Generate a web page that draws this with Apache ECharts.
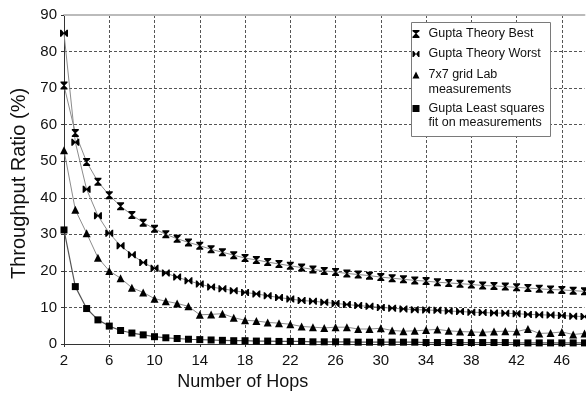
<!DOCTYPE html>
<html>
<head>
<meta charset="utf-8">
<script src="https://cdn.jsdelivr.net/npm/echarts@6/dist/echarts.min.js"></script>
<style>
html,body{margin:0;padding:0;background:#fff;}
#chart{width:586px;height:394px;}
</style>
</head>
<body>
<div id="chart"></div>
<script>
// ---- data ----
const hops = [2,3,4,5,6,7,8,9,10,11,12,13,14,15,16,17,18,19,20,21,22,23,24,25,26,27,28,29,30,31,32,33,34,35,36,37,38,39,40,41,42,43,44,45,46,47,48];
const theoryBest = [70.7,57.7,49.8,44.4,40.7,37.7,35.3,33.2,31.5,30.0,28.8,27.8,26.9,25.9,25.1,24.3,23.5,23.0,22.4,21.9,21.4,20.9,20.4,20.0,19.7,19.3,19.0,18.7,18.3,18.0,17.7,17.4,17.2,16.9,16.7,16.5,16.3,16.0,15.9,15.7,15.5,15.3,15.1,14.9,14.8,14.6,14.4];
const theoryWorst = [85.0,55.2,42.3,35.1,30.3,26.9,24.4,22.3,20.7,19.4,18.3,17.3,16.4,15.6,15.1,14.6,14.1,13.7,13.2,12.7,12.3,11.9,11.7,11.4,11.1,10.8,10.5,10.3,10.0,9.8,9.6,9.4,9.3,9.2,9.0,8.9,8.7,8.6,8.5,8.4,8.3,8.1,8.0,7.9,7.8,7.6,7.5];
const labMeasured = [53.0,36.7,30.3,23.6,20.0,18.0,15.4,14.1,12.4,11.7,11.1,10.3,8.0,8.1,8.3,7.2,6.5,6.3,5.9,5.7,5.4,4.8,4.6,4.4,4.6,4.6,4.1,4.1,4.3,3.7,3.5,3.6,3.8,4.0,3.6,3.4,3.3,3.2,3.4,3.5,3.4,4.1,2.9,3.0,3.3,2.6,2.9];
const leastSquares = [31.2,15.7,9.7,6.6,4.9,3.7,3.0,2.5,2.0,1.7,1.5,1.3,1.2,1.1,1.0,0.9,0.9,0.8,0.8,0.7,0.7,0.7,0.6,0.6,0.6,0.6,0.5,0.5,0.5,0.5,0.5,0.5,0.4,0.4,0.4,0.4,0.4,0.4,0.4,0.4,0.3,0.3,0.3,0.3,0.3,0.3,0.3];
const seriesNames = ['Gupta Theory Best','Gupta Theory Worst','7x7 grid Lab measurements','Gupta Least squares fit on measurements'];
const legendLabels = ['Gupta Theory Best','Gupta Theory Worst','7x7 grid Lab\nmeasurements','Gupta Least squares\nfit on measurements'];
const xTicks = {min:2, max:48, interval:4};
const yTicks = {min:0, max:90, interval:10};
const xTitle = 'Number of Hops';
const yTitle = 'Throughput Ratio (%)';

// ---- styles ----
const FONT = '"Liberation Sans", Arial, sans-serif';
const HOURGLASS = 'path://M0,0 L10,0 L10,1.6 L5.8,5 L10,8.4 L10,10 L0,10 L0,8.4 L4.2,5 L0,1.6 Z';
const BOWTIE = 'path://M0,0 L1.6,0 L5,4.2 L8.4,0 L10,0 L10,10 L8.4,10 L5,5.8 L1.6,10 L0,10 Z';
const legendIcons = [
  'path://M0,0 L7,0 L7,1.2 L4,3.6 L7,6.8 L7,8 L0,8 L0,6.8 L3,3.6 L0,1.2 Z M11,0 M11,8',
  'path://M0,0.5 L1.2,0.5 L3.5,3.4 L5.8,0.5 L7,0.5 L7,6.5 L5.8,6.5 L3.5,3.6 L1.2,6.5 L0,6.5 Z M11,0 M11,7',
  'path://M3.5,0.5 L7,7.5 L0,7.5 Z M11,0 M11,22',
  'path://M0,0.5 L7,0.5 L7,7.5 L0,7.5 Z M11,0 M11,22'
];
const legendHeights = [8, 7, 22, 22];
const legendTops = [26.75, 46.75, 67.5, 101];

const toPairs = arr => hops.map((h, i) => [h, arr[i]]);
const lineColor = '#8c8c8c';

const chart = echarts.init(document.getElementById('chart'), null, {renderer:'canvas'});
const legends = seriesNames.map((n, i) => ({
  data: [{name: n, icon: legendIcons[i]}],
  left: 412.5, top: legendTops[i], z: 10,
  orient: 'vertical', padding: 0,
  itemWidth: 11, itemHeight: legendHeights[i],
  selectedMode: false,
  formatter: () => legendLabels[i],
  textStyle: {fontFamily: FONT, fontSize: 12.5, lineHeight: 14.5, color: '#111'},
  itemStyle: {color: '#000', borderWidth: 0}
}));

const option = {
  animation: false,
  backgroundColor: '#fff',
  textStyle: {fontFamily: FONT},
  grid: {left: 64, right: 1.5, top: 15, bottom: 50, containLabel: false, outerBoundsMode: 'none'},
  graphic: [{
    type: 'rect', left: 411, top: 22, z: 2,
    shape: {width: 139, height: 114},
    style: {fill: '#fff', stroke: '#7a7a7a', lineWidth: 1}
  }],
  legend: legends,
  xAxis: [{
    type: 'value', min: xTicks.min, max: xTicks.max, interval: xTicks.interval,
    name: xTitle, nameLocation: 'middle', nameGap: 27,
    nameTextStyle: {fontFamily: FONT, fontSize: 18, color: '#111', padding: [0, 163, 0, 0]},
    axisLine: {show: true, onZero: false, lineStyle: {color: '#333', width: 1}},
    axisTick: {show: true, length: 3, lineStyle: {color: '#333'}},
    axisLabel: {fontFamily: FONT, fontSize: 15, color: '#111', margin: 9, showMaxLabel: false},
    splitLine: {show: true, showMinLine: false, showMaxLine: false, lineStyle: {color: '#555', type: [3, 2], width: 1}}
  }, {
    type: 'value', position: 'top', min: xTicks.min, max: xTicks.max,
    axisLine: {show: true, onZero: false, lineStyle: {color: '#bbb', width: 2}},
    axisTick: {show: false}, axisLabel: {show: false}, splitLine: {show: false}
  }],
  yAxis: {
    type: 'value', min: yTicks.min, max: yTicks.max, interval: yTicks.interval,
    name: yTitle, nameLocation: 'middle', nameGap: 30,
    nameTextStyle: {fontFamily: FONT, fontSize: 20, color: '#111', padding: [0, 8, 0, 0]},
    axisLine: {show: true, lineStyle: {color: '#333', width: 1}},
    axisTick: {show: true, length: 3, lineStyle: {color: '#333'}},
    axisLabel: {fontFamily: FONT, fontSize: 15, color: '#111', margin: 7},
    splitLine: {show: true, showMinLine: false, showMaxLine: false, lineStyle: {color: '#555', type: [3, 2], width: 1}}
  },
  series: [
    {name: seriesNames[0], type: 'line', data: toPairs(theoryBest), symbol: HOURGLASS, symbolSize: [7, 8],
     lineStyle: {color: lineColor, width: 1}, itemStyle: {color: '#000'}, z: 3},
    {name: seriesNames[1], type: 'line', data: toPairs(theoryWorst), symbol: BOWTIE, symbolSize: [8, 7],
     lineStyle: {color: lineColor, width: 1}, itemStyle: {color: '#000'}, z: 3},
    {name: seriesNames[2], type: 'line', data: toPairs(labMeasured), symbol: 'triangle', symbolSize: 8,
     lineStyle: {color: lineColor, width: 1}, itemStyle: {color: '#000'}, z: 3},
    {name: seriesNames[3], type: 'line', data: toPairs(leastSquares), symbol: 'rect', symbolSize: 7,
     lineStyle: {color: '#555', width: 1.2}, itemStyle: {color: '#000'}, z: 3}
  ]
};
chart.setOption(option);
</script>
</body>
</html>
